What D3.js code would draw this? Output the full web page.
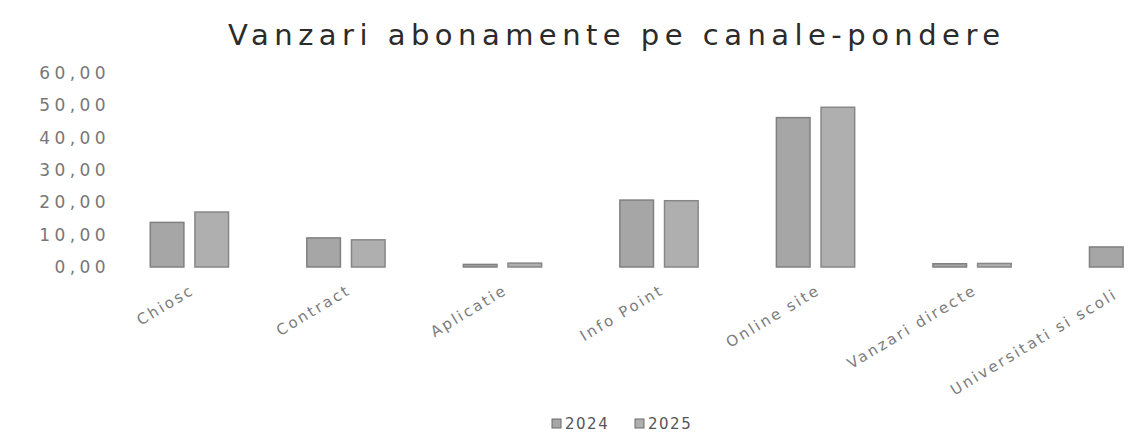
<!DOCTYPE html>
<html>
<head>
<meta charset="utf-8">
<script src="https://cdn.jsdelivr.net/npm/d3@7"></script>
<style>
  html, body { margin: 0; padding: 0; background: #fff; }
  svg { display: block; }
  text { font-family: "DejaVu Sans", sans-serif; }
</style>
</head>
<body>
<svg id="chart" width="1130" height="438"></svg>
<script>
const title = "Vanzari abonamente pe canale-pondere";
const categories = ["Chiosc", "Contract", "Aplicatie", "Info Point", "Online site", "Vanzari directe", "Universitati si scoli"];
const seriesNames = ["2024", "2025"];
const values2024 = [13.8, 9.0, 0.8, 20.7, 46.2, 1.0, 6.2];
const values2025 = [17.0, 8.4, 1.2, 20.5, 49.4, 1.1, 5.5];
const yTicks = [0, 10, 20, 30, 40, 50, 60];

const svg = d3.select("#chart");
const W = 1130, H = 438;
svg.append("rect").attr("width", W).attr("height", H).attr("fill", "#fff");

const y = d3.scaleLinear().domain([0, 60]).range([267, 73]);
const x0 = d3.scaleBand().domain(categories).range([72, 1246]).paddingInner(0.5).paddingOuter(0.5);
const x1 = d3.scaleBand().domain(seriesNames).range([0, x0.bandwidth()]).paddingInner(0.247).paddingOuter(0);

const fills = {"2024": "#a6a6a6", "2025": "#afafaf"};
const strokes = {"2024": "#808080", "2025": "#878787"};

// title
svg.append("text")
  .attr("x", 614).attr("y", 45)
  .attr("text-anchor", "middle")
  .attr("font-size", 29)
  .attr("fill", "#2b2b2b")
  .attr("textLength", 772)
  .attr("lengthAdjust", "spacing")
  .text(title);

// y axis
const yAxis = d3.axisLeft(y).tickValues(yTicks).tickSize(0).tickPadding(0)
  .tickFormat(d => d3.format(".2f")(d).replace(".", ","));
const gy = svg.append("g").attr("transform", "translate(110,0)").call(yAxis);
gy.select(".domain").remove();
gy.selectAll("text")
  .attr("font-size", 17)
  .attr("fill", "#777")
  .attr("letter-spacing", "4.4px")
  .attr("font-family", "DejaVu Sans, sans-serif");

// bars
const data = categories.map((c, i) => ({cat: c, vals: [
  {s: "2024", v: values2024[i]}, {s: "2025", v: values2025[i]}]}));

const g = svg.append("g");
data.forEach(d => {
  d.vals.forEach(b => {
    const bx = x0(d.cat) + x1(b.s);
    g.append("rect")
      .attr("x", bx)
      .attr("y", y(b.v))
      .attr("width", x1.bandwidth())
      .attr("height", Math.max(1.5, y(0) - y(b.v)))
      .attr("fill", fills[b.s])
      .attr("stroke", strokes[b.s])
      .attr("stroke-width", 1.5);
  });
});

// x axis labels
const xAxis = d3.axisBottom(x0).tickSize(0).tickPadding(0);
const gx = svg.append("g").attr("transform", "translate(0,267)").call(xAxis);
gx.select(".domain").remove();
gx.selectAll("text")
  .attr("font-size", 15)
  .attr("fill", "#7c7c7c")
  .attr("letter-spacing", "2.4px")
  .attr("font-family", "DejaVu Sans, sans-serif")
  .attr("text-anchor", "end")
  .attr("dy", 0)
  .attr("transform", (d, i) => i === categories.length - 1
    ? "translate(-10,30) rotate(-31)"
    : "translate(6,26) rotate(-31)");

// legend
const legend = svg.append("g");
const legX = [552, 635];
seriesNames.forEach((s, i) => {
  legend.append("rect")
    .attr("x", legX[i]).attr("y", 419).attr("width", 9).attr("height", 9)
    .attr("fill", fills[s]).attr("stroke", "#6a6a6a").attr("stroke-width", 1);
  legend.append("text")
    .attr("x", legX[i] + 13).attr("y", 429)
    .attr("font-size", 15)
    .attr("fill", "#555")
    .attr("letter-spacing", "1.5px")
    .text(s);
});
</script>
</body>
</html>
